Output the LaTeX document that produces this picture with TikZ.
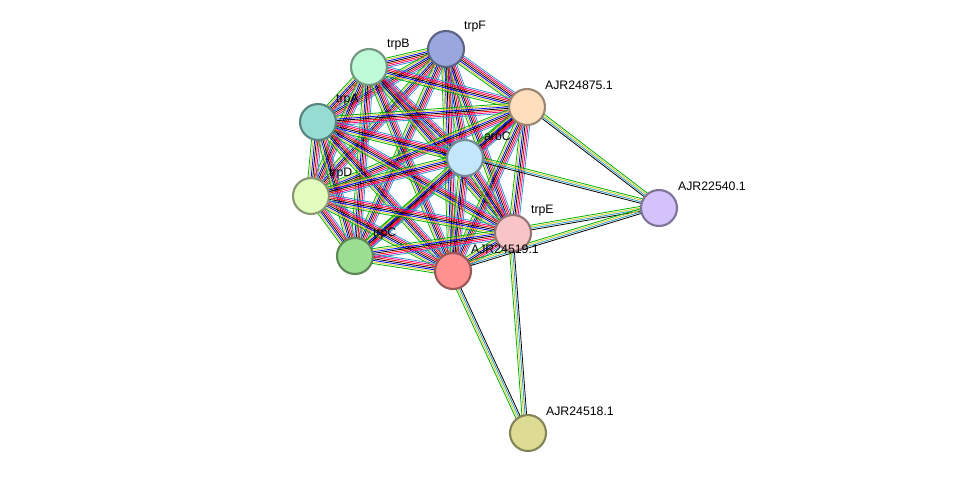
\documentclass[tikz,border=0pt]{standalone}
\usepackage{fontspec}
\setmainfont{Liberation Sans}
\usetikzlibrary{calc}
\tikzset{
  prot/.style={circle, draw=#1!60!black, fill=#1, line width=1.2pt, minimum size=0.72cm, inner sep=0pt},
  lbl/.style={font=\scriptsize, anchor=south west, inner sep=1pt},
  link/.style={line width=0.45pt}
}
% bundle of coloured lines between two nodes
\newcommand{\bundle}[3]{%
  \foreach \c [count=\i] in {#3} {
    \pgfmathsetmacro{\o}{(\i-4)*0.9}
    \draw[link, \c] ($(#1)!\o pt!90:(#2)$) -- ($(#2)!\o pt!-90:(#1)$);
  }}
\begin{document}
\begin{tikzpicture}[x=0.02cm, y=-0.02cm]
  \useasboundingbox (0,0) rectangle (975,478);
  \definecolor{cF}{RGB}{154,166,222}
  \definecolor{cB}{RGB}{190,250,215}
  \definecolor{cA}{RGB}{150,220,210}
  \definecolor{cD}{RGB}{226,252,190}
  \definecolor{cC}{RGB}{155,222,145}
  \definecolor{cR}{RGB}{255,145,145}
  \definecolor{cE}{RGB}{248,196,198}
  \definecolor{cO}{RGB}{196,230,250}
  \definecolor{cN}{RGB}{255,222,190}
  \definecolor{cP}{RGB}{212,194,252}
  \definecolor{cS}{RGB}{222,220,148}
  \coordinate (trpF) at (446,49);
  \coordinate (trpB) at (369,67);
  \coordinate (n875) at (527,107);
  \coordinate (trpA) at (318,122);
  \coordinate (aroC) at (465,158);
  \coordinate (trpD) at (311,196);
  \coordinate (n540) at (659,208);
  \coordinate (trpE) at (513,233);
  \coordinate (trpC) at (355,256);
  \coordinate (nred) at (453,271);
  \coordinate (n518) at (528,433);
  % cluster edges
  \foreach \a/\b in {trpF/trpB,trpF/n875,trpF/trpA,trpF/aroC,trpF/trpD,trpF/trpE,trpF/trpC,trpF/nred,
      trpB/n875,trpB/trpA,trpB/aroC,trpB/trpD,trpB/trpE,trpB/trpC,trpB/nred,
      n875/trpA,n875/aroC,n875/trpD,n875/trpE,n875/trpC,n875/nred,
      trpA/aroC,trpA/trpD,trpA/trpE,trpA/trpC,trpA/nred,
      aroC/trpD,aroC/trpE,aroC/trpC,aroC/nred,
      trpD/trpE,trpD/trpC,trpD/nred,
      trpE/trpC,trpE/nred,trpC/nred}
    {\bundle{\a}{\b}{green!70!black,yellow!80!black,blue,black,red,magenta,cyan!80!black}}
  % outer edges
  \foreach \a/\b in {n540/n875,n540/aroC,n540/trpE,n540/nred,nred/n518,trpE/n518}
    {\bundle{\a}{\b}{green!70!black,yellow!80!black,cyan!80!black,black}}
  \node[prot=cF] (F) at (trpF) {};
  \node[prot=cB] (B) at (trpB) {};
  \node[prot=cN] (N) at (n875) {};
  \node[prot=cA] (A) at (trpA) {};
  \node[prot=cO] (O) at (aroC) {};
  \node[prot=cD] (D) at (trpD) {};
  \node[prot=cP] (P) at (n540) {};
  \node[prot=cE] (E) at (trpE) {};
  \node[prot=cC] (C) at (trpC) {};
  \node[prot=cR] (R) at (nred) {};
  \node[prot=cS] (S) at (n518) {};
  \node[lbl] at (462,34) {trpF};
  \node[lbl] at (385,52) {trpB};
  \node[lbl] at (543,92) {AJR24875.1};
  \node[lbl] at (334,107) {trpA};
  \node[lbl] at (482,143) {aroC};
  \node[lbl] at (327,181) {trpD};
  \node[lbl] at (676,193) {AJR22540.1};
  \node[lbl] at (529,218) {trpE};
  \node[lbl] at (371,241) {trpC};
  \node[lbl] at (469,256) {AJR24519.1};
  \node[lbl] at (544,418) {AJR24518.1};
\end{tikzpicture}
\end{document}
